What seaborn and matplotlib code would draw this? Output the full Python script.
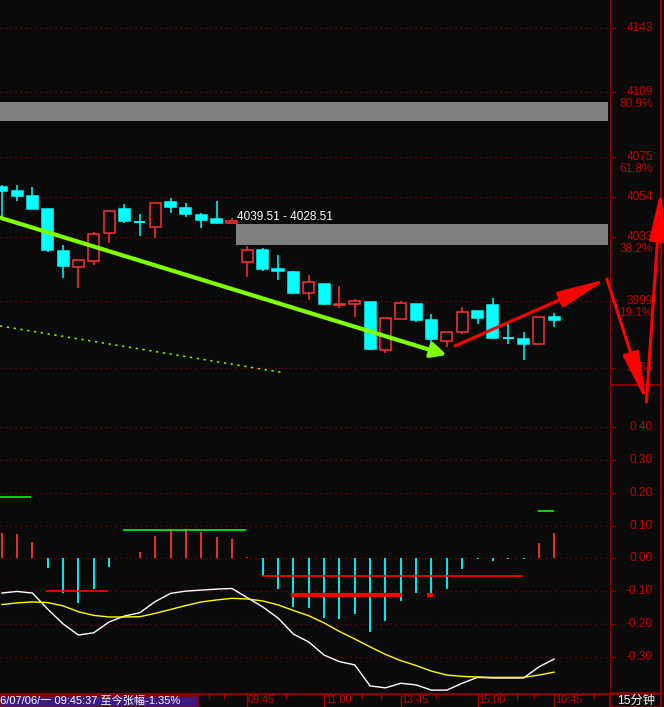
import numpy as np
import pandas as pd
import matplotlib
matplotlib.use("Agg")
import matplotlib.pyplot as plt
from matplotlib.patches import Rectangle
from matplotlib.lines import Line2D
import seaborn as sns

# ---- 15 minute candles ----
opens = [4059.3, 4057.2, 4054.5, 4047.7, 4025.6, 4017.2, 4020.3, 4035.1, 4047.7, 4040.9,
         4038.2, 4051.4, 4048.2, 4044.5, 4042.4, 4040.3, 4019.8, 4026.1, 4016.1, 4014.5,
         4003.5, 4008.2, 3997.0, 3997.7, 3998.7, 3973.5, 3989.8, 3997.7, 3989.3, 3978.2,
         3982.9, 3994.0, 3997.2, 3979.8, 3979.3, 3976.6, 3990.8]
closes = [4057.2, 4054.5, 4047.7, 4026.1, 4017.7, 4020.9, 4034.5, 4046.6, 4041.4, 4040.9,
          4050.9, 4048.8, 4045.1, 4041.9, 4040.3, 4041.4, 4026.1, 4016.1, 4015.1, 4003.5,
          4009.3, 3997.7, 3997.7, 3999.3, 3974.0, 3990.3, 3998.2, 3989.3, 3979.3, 3982.9,
          3993.5, 3990.3, 3979.8, 3979.8, 3976.6, 3990.8, 3989.3]
highs = [4060.3, 4060.3, 4059.3, 4047.7, 4028.8, 4020.9, 4035.6, 4046.6, 4050.3, 4045.1,
         4050.9, 4053.5, 4050.9, 4045.6, 4051.9, 4043.0, 4028.2, 4027.2, 4023.5, 4015.1,
         4013.0, 4008.2, 4007.2, 4000.3, 3998.7, 3990.3, 3999.3, 3997.7, 3992.4, 3982.9,
         3996.1, 3994.0, 4000.8, 3987.2, 3982.9, 3990.8, 3992.9]
lows = [4043.5, 4051.9, 4047.7, 4025.1, 4011.4, 4006.1, 4018.2, 4029.8, 4040.3, 4033.5,
        4032.4, 4045.6, 4043.5, 4037.7, 4040.3, 4040.3, 4011.9, 4015.1, 4010.3, 4003.5,
        3999.8, 3997.2, 3995.6, 3990.8, 3973.5, 3971.9, 3989.8, 3988.2, 3974.5, 3975.0,
        3981.9, 3987.2, 3979.3, 3976.6, 3968.2, 3976.6, 3985.6]

# ---- MACD ----
macd_hist = [0.078, 0.074, 0.051, -0.029, -0.105, -0.135, -0.095, -0.026, 0.002, 0.019,
             0.068, 0.089, 0.089, 0.080, 0.065, 0.059, 0.004, -0.054, -0.094, -0.147,
             -0.151, -0.181, -0.184, -0.169, -0.224, -0.190, -0.129, -0.105, -0.107, -0.093,
             -0.032, -0.002, -0.007, -0.003, -0.001, 0.047, 0.077]
dif = [-0.106, -0.101, -0.106, -0.155, -0.200, -0.234, -0.227, -0.194, -0.176, -0.166,
       -0.132, -0.107, -0.100, -0.097, -0.094, -0.092, -0.120, -0.148, -0.182, -0.231,
       -0.255, -0.295, -0.315, -0.325, -0.389, -0.395, -0.381, -0.386, -0.402, -0.402,
       -0.381, -0.363, -0.365, -0.365, -0.365, -0.331, -0.307]
dea = [-0.141, -0.136, -0.133, -0.135, -0.145, -0.163, -0.174, -0.179, -0.179, -0.178,
       -0.168, -0.156, -0.144, -0.133, -0.127, -0.122, -0.124, -0.130, -0.142, -0.159,
       -0.175, -0.197, -0.223, -0.246, -0.270, -0.293, -0.312, -0.327, -0.344, -0.356,
       -0.360, -0.362, -0.363, -0.363, -0.363, -0.356, -0.347]

# level marks drawn on the MACD pane: start idx, end idx, value, colour, width
seg_start = [-0.11, 7.9, 2.89, 16.96, 18.85, 27.7, 34.94]
seg_end = [1.91, 15.92, 6.93, 33.96, 26.08, 28.1, 35.98]
seg_value = [0.186, 0.085, -0.100, -0.055, -0.112, -0.112, 0.143]
seg_color = ["#00ff00", "#00ff00", "#ff0000", "#ff0000", "#ff0000", "#ff0000", "#00ff00"]
seg_width = [1.2, 1.2, 1.2, 1.2, 3.0, 3.0, 1.2]

# ---- axes labels ----
price_ticks = [4143, 4109, 4075, 4054, 4033, 3999, 3964]
fib_labels = {4109: "80.9%", 4075: "61.8%", 4033: "38.2%", 3999: "19.1%"}
macd_ticks = [0.40, 0.30, 0.20, 0.10, 0.00, -0.10, -0.20, -0.30]
time_idx = [16, 21, 26, 31, 36]
time_labels = ["09:45", "11:00", "13:45", "15:00", "10:45"]
minor_idx = [13.5, 14.5, 18.5, 23.5, 24.7, 28.3, 33.6, 34.7, 38.6]

# ---- zones and drawn lines ----
zone_low = [4094.0, 4028.51]
zone_high = [4104.0, 4039.51]
zone_from = [-0.11, 15.26]
zone_text = "4039.51 - 4028.51"
trend_start, trend_end = (-0.11, 4043.1), (28.99, 3970.8)
guide_x = [-0.11, 18.33]
guide_y = [3986.1, 3961.5]
red_path = [(29.53, 3975.6), (39.43, 4010.8), (42.0, 3946.1), (42.95, 4057.7)]

BG = "#0a0a0a"
FRAME = "#8b0000"
GRID = "#8b0000"
LABEL = "#c80000"
RED = "#ff3232"
CYAN = "#00ffff"

sns.set_theme(style="dark", rc={"axes.facecolor": BG, "figure.facecolor": BG})
plt.rcParams["font.family"] = ["Liberation Sans", "Noto Sans CJK SC", "DejaVu Sans"]

W, H = 664, 707
fig = plt.figure(figsize=(W / 100, H / 100), dpi=100, facecolor=BG)
ax = fig.add_axes([0, 1 - 385 / H, 610 / W, 385 / H])
axm = fig.add_axes([0, 1 - 693 / H, 610 / W, 308 / H])
ax.set_zorder(3)
axm.set_zorder(2)

xlim = (-0.11, 39.63)
idx = np.arange(len(opens))

# ---------------- price pane ----------------
ax.set_facecolor(BG)
ax.set_xlim(*xlim)
ax.set_ylim(3955.0, 4157.7)
for t in price_ticks:
    ax.axhline(t, color=GRID, lw=0.9, ls=(0, (1, 3)), zorder=1)

for lo, hi, x0 in zip(zone_low, zone_high, zone_from):
    ax.add_patch(Rectangle((x0, lo), 39.5 - x0, hi - lo, facecolor="#808080",
                           edgecolor="none", zorder=2))
ax.text(zone_from[1] + 0.05, zone_high[1] + 2.3, zone_text, color="white",
        fontsize=8.5, va="baseline", ha="left", zorder=5)

for i in idx:
    o, c, h, l = opens[i], closes[i], highs[i], lows[i]
    up = c > o
    col = RED if up else CYAN
    ax.vlines(i, l, h, color=col, lw=1.1, zorder=3)
    bot, top = min(o, c), max(o, c)
    if top - bot < 0.6:
        ax.hlines((o + c) / 2, i - 0.36, i + 0.36, color=col, lw=1.4, zorder=4)
    else:
        ax.add_patch(Rectangle((i - 0.36, bot), 0.72, top - bot,
                               facecolor=BG if up else CYAN, edgecolor=col,
                               lw=1.1, zorder=4))

ax.plot(guide_x, guide_y, color="#7fff00", lw=1.1, ls=(0, (1.5, 3)), zorder=5)
ax.annotate("", xy=trend_end, xytext=trend_start, annotation_clip=False, zorder=6,
            arrowprops=dict(arrowstyle="-|>,head_length=0.9,head_width=0.45",
                            color="#7fff00", lw=3.0, shrinkA=0, shrinkB=0,
                            mutation_scale=10))
for p0, p1 in zip(red_path[:-1], red_path[1:]):
    ax.annotate("", xy=p1, xytext=p0, annotation_clip=False, zorder=7,
                arrowprops=dict(arrowstyle="-|>,head_length=3.0,head_width=0.5",
                                color="#ff0000", lw=2.2, shrinkA=0, shrinkB=0,
                                mutation_scale=10))

ax.set_xticks([])
ax.set_yticks(price_ticks)
ax.tick_params(axis="y", left=False, right=True, labelleft=False, labelright=False,
               direction="out", length=4, width=1, color=FRAME)
for t in price_ticks:
    ax.text(653 / 610, t, str(t), transform=ax.get_yaxis_transform(), color=LABEL,
            fontsize=8.6, ha="right", va="center", clip_on=False)
    if t in fib_labels:
        ax.annotate(fib_labels[t], xy=(653 / 610, t), xycoords=ax.get_yaxis_transform(),
                    xytext=(0, -8.6), textcoords="offset points", color=LABEL,
                    fontsize=8.6, ha="right", va="center", annotation_clip=False)
for s in ax.spines.values():
    s.set_visible(False)

# ---------------- MACD pane ----------------
axm.set_facecolor(BG)
axm.set_xlim(*xlim)
axm.set_ylim(-0.4107, 0.5284)
for t in macd_ticks:
    axm.axhline(t, color=GRID, lw=0.9, ls=(0, (1, 3)), zorder=1)

bar_cols = [RED if v > 0 else CYAN for v in macd_hist]
axm.vlines(idx, 0, macd_hist, colors=bar_cols, lw=1.3, zorder=3)
for x0, x1, v, c, w in zip(seg_start, seg_end, seg_value, seg_color, seg_width):
    axm.hlines(v, x0, x1, color=c, lw=w, zorder=4)

macd_df = pd.DataFrame({"idx": idx, "DIF": dif, "DEA": dea})
sns.lineplot(data=macd_df, x="idx", y="DIF", ax=axm, color="white", lw=1.0, zorder=5)
sns.lineplot(data=macd_df, x="idx", y="DEA", ax=axm, color="#ffff00", lw=1.0, zorder=5)
axm.set_xlabel("")
axm.set_ylabel("")

axm.set_yticks(macd_ticks)
axm.tick_params(axis="y", left=False, right=True, labelleft=False, labelright=False,
                direction="out", length=4, width=1, color=FRAME)
for t in macd_ticks:
    axm.text(653 / 610, t, f"{t:.2f}", transform=axm.get_yaxis_transform(), color=LABEL,
             fontsize=8.6, ha="right", va="center", clip_on=False)

axm.set_xticks(time_idx)
axm.set_xticks(minor_idx, minor=True)
axm.tick_params(axis="x", which="major", bottom=True, labelbottom=False, direction="out",
                length=10, width=1, color="#a00000")
axm.tick_params(axis="x", which="minor", bottom=True, direction="out", length=4, width=1,
                color="#a00000")
for x, lab in zip(time_idx, time_labels):
    axm.text(x + 0.05, -0.008, lab, transform=axm.get_xaxis_transform(), color=LABEL,
             fontsize=7.8, ha="left", va="top", clip_on=False)
for s in axm.spines.values():
    s.set_visible(False)

# ---------------- frame and status bar ----------------
def fx(px):
    return px / W


def fy(py):
    return 1 - py / H


for xs, ys in [((610, 610), (0, H)), ((661, 661), (0, H)),
               ((0, 661), (385, 385)), ((0, 661), (693.5, 693.5))]:
    fig.add_artist(Line2D([fx(v) for v in xs], [fy(v) for v in ys],
                          transform=fig.transFigure, color=FRAME, lw=1.6))

# window icons, top right
fig.add_artist(Line2D([fx(576), fx(581), fx(586)], [fy(0), fy(5), fy(0)],
                      transform=fig.transFigure, color="#9a9a9a", lw=0.8))
fig.add_artist(Rectangle((fx(595), fy(6)), fx(10), 8 / H, transform=fig.transFigure,
                         facecolor="none", edgecolor="#9a9a9a", lw=0.8))

fig.add_artist(Rectangle((fx(0), fy(H)), fx(198), 11 / H, transform=fig.transFigure,
                         facecolor="#3c1a80", edgecolor=FRAME, lw=1.2))
fig.text(fx(0), fy(695), "6/07/06/一 09:45:37 至今张幅-1.35%", color="white",
         fontsize=8.0, ha="left", va="top")
fig.add_artist(Rectangle((fx(610), fy(H)), fx(51), 14 / H, transform=fig.transFigure,
                         facecolor=BG, edgecolor=FRAME, lw=1.2))
fig.text(fx(636), fy(694.5), "15分钟", color="white", fontsize=8.8, ha="center", va="top")

fig.savefig("out.png", dpi=100, facecolor=BG)
